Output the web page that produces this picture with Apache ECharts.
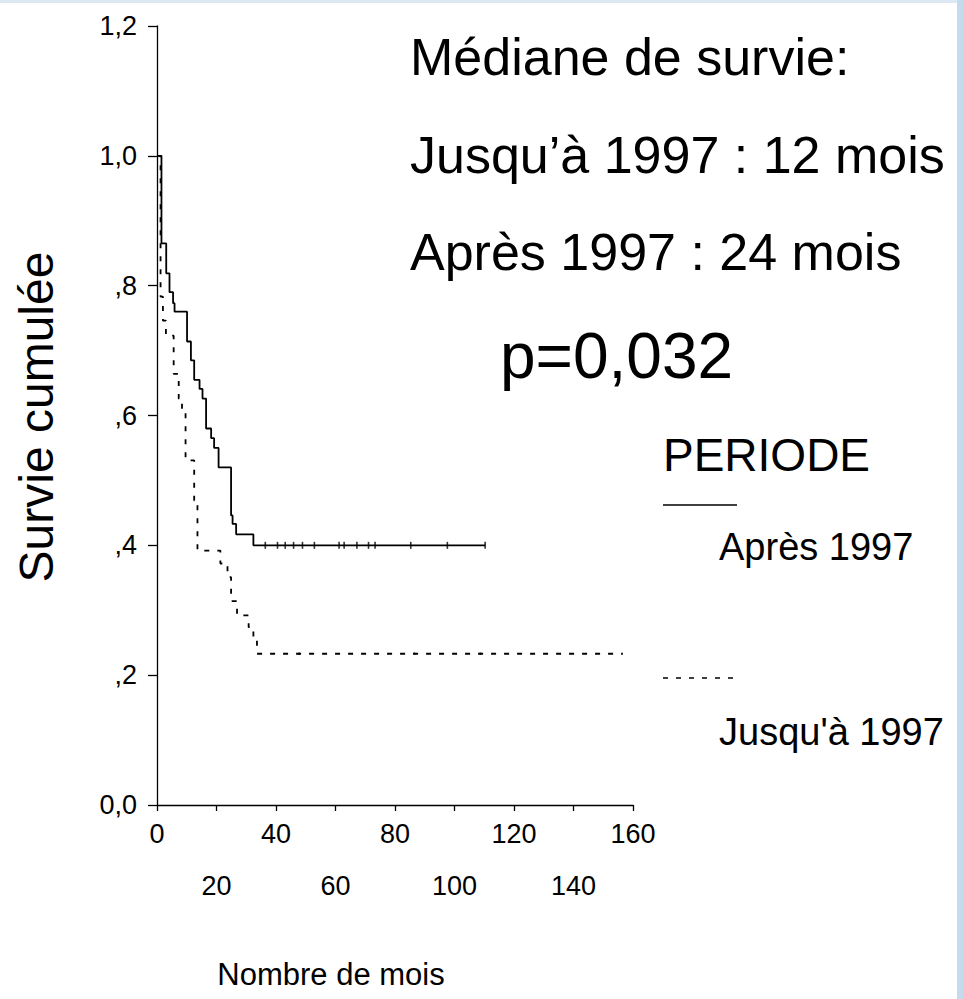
<!DOCTYPE html>
<html>
<head>
<meta charset="utf-8">
<title>Survie cumulée</title>
<script src="https://cdn.jsdelivr.net/npm/echarts@6/dist/echarts.min.js"></script>
<style>
  html, body { margin: 0; padding: 0; background: #fff; }
  #chart { width: 963px; height: 999px; }
</style>
</head>
<body>
<div id="chart"></div>
<script>
// Kaplan-Meier steps: time (mois) at which survival drops to the given level
var apresTimes = [0, 1.5, 3.1, 4.2, 5.4, 5.9, 10.1, 11.4, 12.5, 14.3, 15.3, 16.5, 18.2, 19.2, 20.7, 24.9, 25.4, 26.6, 32.4, 110.3];
var apresSurv  = [1.0, 0.865, 0.819, 0.790, 0.773, 0.760, 0.714, 0.685, 0.655, 0.641, 0.626, 0.580, 0.565, 0.550, 0.520, 0.446, 0.433, 0.417, 0.400, 0.400];
var apresCensor = [36.4, 40.5, 43.1, 45.9, 48.9, 52.9, 61.2, 62.9, 67.2, 71.1, 73.3, 85.3, 97.6, 110.3];

var jusquTimes = [0, 1.2, 2.0, 3.0, 5.6, 7.3, 8.4, 9.6, 12.5, 13.6, 21.3, 23.7, 24.9, 26.9, 30.8, 32.4, 33.6, 156.6];
var jusquSurv  = [1.0, 0.783, 0.746, 0.723, 0.664, 0.626, 0.606, 0.531, 0.469, 0.392, 0.372, 0.351, 0.314, 0.292, 0.274, 0.255, 0.233, 0.233];
var jusquCensor = [47.8, 86.5, 108.7];

var yTickLabels = ['0,0', ',2', ',4', ',6', ',8', '1,0', '1,2'];
var xTickLabels = ['0', '20', '40', '60', '80', '100', '120', '140', '160'];

(function() {
  var font = "'Liberation Sans', Arial, sans-serif";
  var ink = '#000';

  function pairs(xs, ys) {
    var out = [];
    for (var i = 0; i < xs.length; i++) out.push([xs[i], ys[i]]);
    return out;
  }
  function censorPts(xs, level) {
    return xs.map(function(t) { return [t, level]; });
  }

  var chart = echarts.init(document.getElementById('chart'), null, { renderer: 'svg' });
  chart.setOption({
    animation: false,
    backgroundColor: '#fff',
    grid: { left: 157, top: 26, width: 476, height: 779 },
    xAxis: {
      type: 'value',
      min: 0,
      max: 160,
      interval: 20,
      axisLine: { lineStyle: { color: ink, width: 1.3 } },
      axisTick: { length: 6, lineStyle: { color: ink, width: 1.3 } },
      splitLine: { show: false },
      axisLabel: {
        color: ink,
        fontFamily: font,
        fontSize: 27,
        lineHeight: 52,
        margin: 3,
        formatter: function(v) {
          var i = Math.round(v / 20);
          return (i % 2 === 1 ? '\n' : '') + xTickLabels[i];
        }
      }
    },
    yAxis: {
      type: 'value',
      min: 0,
      max: 1.2,
      interval: 0.2,
      axisLine: { show: true, lineStyle: { color: ink, width: 1.3 } },
      axisTick: { show: true, length: 9, lineStyle: { color: ink, width: 1.3 } },
      splitLine: { show: false },
      axisLabel: {
        color: ink,
        fontFamily: font,
        fontSize: 27,
        margin: 20,
        formatter: function(v) {
          return yTickLabels[Math.round(v / 0.2)];
        }
      }
    },
    series: [
      {
        name: 'Après 1997',
        type: 'line',
        step: 'end',
        symbol: 'none',
        data: pairs(apresTimes, apresSurv),
        lineStyle: { color: ink, width: 1.8 }
      },
      {
        name: "Jusqu'à 1997",
        type: 'line',
        step: 'end',
        symbol: 'none',
        data: pairs(jusquTimes, jusquSurv),
        lineStyle: { color: ink, width: 1.8, type: [5, 8] }
      },
      {
        type: 'scatter',
        symbol: 'rect',
        symbolSize: [1.6, 7],
        data: censorPts(apresCensor, apresSurv[apresSurv.length - 1]),
        itemStyle: { color: ink }
      },
      {
        type: 'scatter',
        symbol: 'rect',
        symbolSize: [1.6, 2.5],
        data: censorPts(jusquCensor, jusquSurv[jusquSurv.length - 1]),
        itemStyle: { color: ink }
      }
    ],
    graphic: [
      { type: 'rect', shape: { x: 0, y: 0, width: 963, height: 3 }, style: { fill: '#dce8f4' }, silent: true },
      { type: 'rect', shape: { x: 957, y: 0, width: 6, height: 999 }, style: { fill: '#c6daee' }, silent: true },
      {
        type: 'text', x: 36, y: 417, rotation: Math.PI / 2,
        style: { text: 'Survie cumulée', fill: ink, font: '48px ' + font, align: 'center', verticalAlign: 'middle' }
      },
      {
        type: 'text', x: 331, y: 974,
        style: { text: 'Nombre de mois', fill: ink, font: '31px ' + font, align: 'center', verticalAlign: 'middle' }
      },
      {
        type: 'text', x: 410, y: 57,
        style: { text: 'Médiane de survie:', fill: ink, font: '52px ' + font, align: 'left', verticalAlign: 'middle' }
      },
      {
        type: 'text', x: 410, y: 155,
        style: { text: 'Jusqu’à 1997 : 12 mois', fill: ink, font: '52px ' + font, align: 'left', verticalAlign: 'middle' }
      },
      {
        type: 'text', x: 410, y: 252,
        style: { text: 'Après 1997 : 24 mois', fill: ink, font: '52px ' + font, align: 'left', verticalAlign: 'middle' }
      },
      {
        type: 'text', x: 500, y: 356,
        style: { text: 'p=0,032', fill: ink, font: '64px ' + font, align: 'left', verticalAlign: 'middle' }
      },
      {
        type: 'text', x: 663, y: 455,
        style: { text: 'PERIODE', fill: ink, font: '46px ' + font, align: 'left', verticalAlign: 'middle' }
      },
      {
        type: 'line', shape: { x1: 663, y1: 505, x2: 737, y2: 505 },
        style: { stroke: ink, lineWidth: 1.5 }
      },
      {
        type: 'text', x: 719, y: 547,
        style: { text: 'Après 1997', fill: ink, font: '38px ' + font, align: 'left', verticalAlign: 'middle' }
      },
      {
        type: 'line', shape: { x1: 663, y1: 678, x2: 737, y2: 678 },
        style: { stroke: ink, lineWidth: 1.5, lineDash: [5, 8] }
      },
      {
        type: 'text', x: 719, y: 732,
        style: { text: "Jusqu'à 1997", fill: ink, font: '38px ' + font, align: 'left', verticalAlign: 'middle' }
      }
    ]
  });
  window.addEventListener('resize', function() { chart.resize(); });
})();
</script>
</body>
</html>
